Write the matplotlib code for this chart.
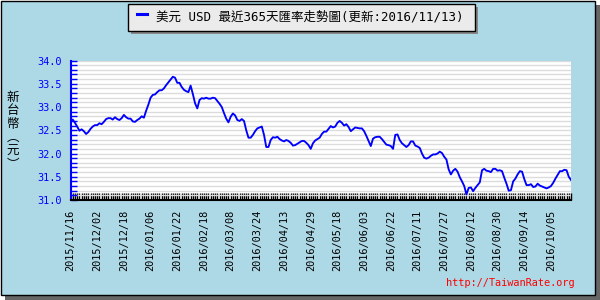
import matplotlib

matplotlib.use("Agg")
import matplotlib.pyplot as plt
import numpy as np
from matplotlib.patches import Rectangle

# USD/TWD daily rate, one value per trading day (2015/11/16 .. 2016/11/11)
rates = [
    32.71, 32.73, 32.66, 32.58, 32.49, 32.52, 32.48, 32.42, 32.46, 32.53,
    32.58, 32.61, 32.61, 32.65, 32.63, 32.68, 32.74, 32.76, 32.76, 32.73,
    32.78, 32.74, 32.72, 32.76, 32.83, 32.78, 32.75, 32.75, 32.69, 32.68,
    32.72, 32.75, 32.80, 32.77, 32.92, 33.05, 33.20, 33.26, 33.27, 33.32,
    33.36, 33.36, 33.40, 33.47, 33.53, 33.59, 33.65, 33.63, 33.52, 33.52,
    33.43, 33.37, 33.34, 33.32, 33.46, 33.28, 33.08, 32.97, 33.15, 33.19,
    33.18, 33.20, 33.18, 33.18, 33.20, 33.19, 33.13, 33.07, 33.00, 32.87,
    32.75, 32.67, 32.79, 32.86, 32.82, 32.72, 32.70, 32.74, 32.70, 32.50,
    32.34, 32.34, 32.40, 32.48, 32.54, 32.56, 32.58, 32.40, 32.14, 32.14,
    32.29, 32.35, 32.34, 32.36, 32.31, 32.28, 32.26, 32.29, 32.27, 32.23,
    32.17, 32.18, 32.21, 32.24, 32.27, 32.27, 32.23, 32.18, 32.10, 32.22,
    32.28, 32.31, 32.34, 32.42, 32.47, 32.47, 32.53, 32.59, 32.56, 32.58,
    32.66, 32.70, 32.66, 32.60, 32.63, 32.57, 32.48, 32.52, 32.56, 32.55,
    32.54, 32.54, 32.48, 32.38, 32.27, 32.16, 32.32, 32.35, 32.36, 32.36,
    32.31, 32.25, 32.19, 32.18, 32.16, 32.10, 32.40, 32.41, 32.29, 32.22,
    32.18, 32.14, 32.18, 32.26, 32.26, 32.17, 32.15, 32.12, 32.00, 31.91,
    31.89, 31.91, 31.95, 31.98, 31.98, 32.00, 32.04, 32.01, 31.93, 31.87,
    31.66, 31.55, 31.63, 31.67, 31.61, 31.49, 31.40, 31.30, 31.12, 31.26,
    31.27, 31.19, 31.26, 31.32, 31.38, 31.64, 31.67, 31.63, 31.62, 31.60,
    31.67, 31.67, 31.63, 31.64, 31.62, 31.48, 31.35, 31.20, 31.21, 31.40,
    31.46, 31.55, 31.62, 31.61, 31.45, 31.32, 31.32, 31.34, 31.28, 31.29,
    31.35, 31.31, 31.29, 31.27, 31.25, 31.27, 31.30, 31.37, 31.46, 31.54,
    31.62, 31.62, 31.65, 31.64, 31.50, 31.43,
]

tick_labels = [
    "2015/11/16", "2015/12/02", "2015/12/18", "2016/01/06", "2016/01/22",
    "2016/02/18", "2016/03/08", "2016/03/24", "2016/04/13", "2016/04/29",
    "2016/05/18", "2016/06/03", "2016/06/22", "2016/07/11", "2016/07/27",
    "2016/08/12", "2016/08/30", "2016/09/14", "2016/10/05",
]
tick_step = 12

title = "美元 USD 最近365天匯率走勢圖(更新:2016/11/13)"
y_label = "新\n台\n幣\n︵\n元\n︶"
credit = "http://TaiwanRate.org"

W, H = 600, 300
BG = "#ADD8E6"
MONO = "DejaVu Sans Mono"
MIXED = ["DejaVu Sans Mono", "Noto Sans CJK TC"]
CJK = ["Noto Sans CJK TC", "DejaVu Sans"]


def fx(px):
    return px / W


def fy(py):
    return 1 - py / H


def box(fig, x0, y0, x1, y1, zorder=-1, **kw):
    fig.patches.append(
        Rectangle((fx(x0), fy(y1)), fx(x1 - x0), (y1 - y0) / H,
                  transform=fig.transFigure, figure=fig, zorder=zorder, **kw)
    )


fig = plt.figure(figsize=(6, 3), dpi=100, facecolor="white")

# outer frame with drop shadow
box(fig, 5, 5, 600, 300, facecolor="#666666", edgecolor="none", zorder=-3)
box(fig, 0.5, 0.5, 594.5, 294.5, facecolor=BG, edgecolor="black", lw=1, zorder=-2)

# legend/title box
box(fig, 131, 7, 478, 34, facecolor="#888888", edgecolor="none")
box(fig, 128, 4, 475, 30.5, facecolor="#EBEBEB", edgecolor="black", lw=1)
fig.lines.append(
    plt.Line2D([fx(137), fx(147)], [fy(14), fy(14)], transform=fig.transFigure,
               color="#0000FF", lw=2.2)
)
fig.text(fx(156), fy(17), title, family=MIXED, fontsize=9, va="center", ha="left")

ax = fig.add_axes([fx(70.5), fy(200), fx(571 - 70.5), (200 - 60.5) / H])
ax.set_facecolor("white")
x = np.arange(len(rates))
ax.plot(x, rates, color="#0000FF", lw=1.35, zorder=3)
ax.set_xlim(0, len(rates) - 1)
ax.set_ylim(31, 34)

ax.set_yticks(np.arange(31, 34.01, 0.5))
ax.set_yticks(np.arange(31, 34.01, 0.1), minor=True)
ax.set_yticklabels([f"{v:.1f}" for v in np.arange(31, 34.01, 0.5)])
ax.grid(which="both", axis="y", color="#DCDCDC", lw=1.0, zorder=0)
ax.tick_params(axis="y", which="both", direction="in", color="#0000FF",
               length=4, width=1, labelcolor="#0000FF", labelsize=7.4, pad=6)

ax.set_xticks(np.arange(0, tick_step * len(tick_labels), tick_step))
ax.set_xticklabels(tick_labels, rotation=90)
ax.set_xticks(x, minor=True)
ax.tick_params(axis="x", which="both", direction="in", color="black",
               length=5, width=1, labelsize=7.4, pad=7)
for lab in ax.get_xticklabels() + ax.get_yticklabels():
    lab.set_family(MONO)

ax.spines["top"].set_visible(False)
ax.spines["right"].set_visible(False)
ax.spines["left"].set_color("#0000FF")
ax.spines["left"].set_linewidth(1.5)
ax.spines["bottom"].set_color("black")
ax.spines["bottom"].set_linewidth(1.5)

fig.text(fx(13), fy(131), y_label, family=CJK, fontsize=9, ha="center",
         va="center", linespacing=1.05)
fig.text(fx(575), fy(283), credit, family=MONO, fontsize=7.4, color="red",
         ha="right", va="center")

fig.savefig("out.png", dpi=100, facecolor=fig.get_facecolor())
plt.close(fig)
